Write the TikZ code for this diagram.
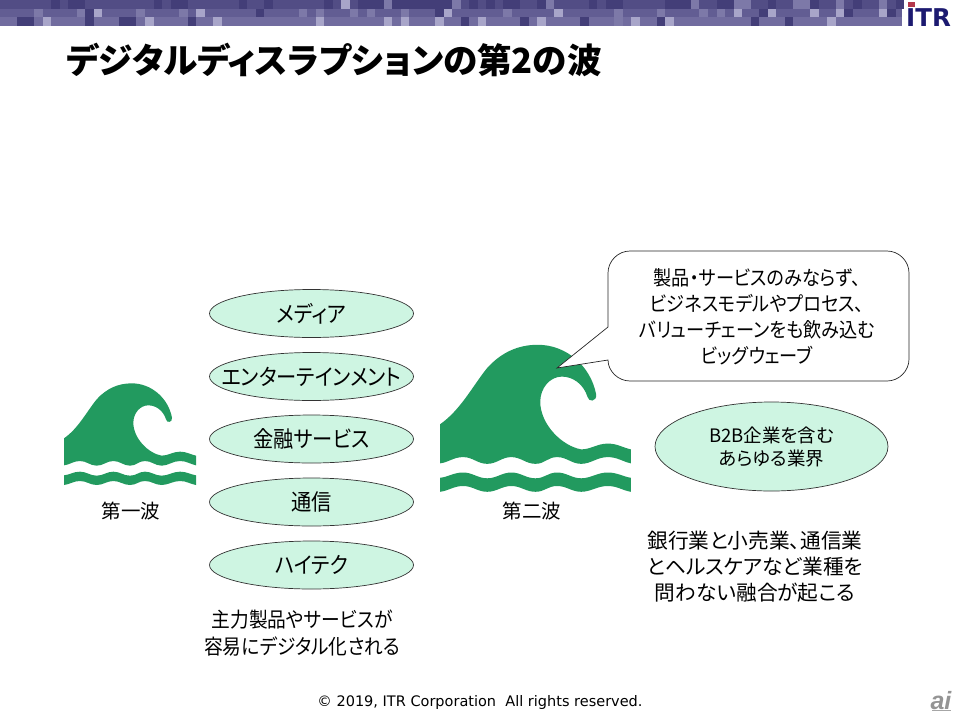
\documentclass[tikz,border=0pt]{standalone}
\usepackage{fontspec}
\setmainfont[RawFeature=+palt]{Noto Sans CJK JP}
\newfontfamily\narrowjp[RawFeature=+palt,FakeStretch=0.9]{Noto Sans CJK JP}
\newfontfamily\footfont{DejaVu Sans}
\newfontfamily\logofont{Liberation Sans}
\newfontfamily\itrfont{DejaVu Sans}
\definecolor{rowa}{HTML}{524D85}
\definecolor{rowb}{HTML}{625D93}
\definecolor{rowc}{HTML}{716C9F}
\definecolor{celldark}{HTML}{433E78}
\definecolor{cellmid}{HTML}{7D79A8}
\definecolor{cellbright}{HTML}{A8A5C9}
\definecolor{seagreen}{HTML}{229A5F}
\definecolor{palegreen}{HTML}{CEF5E2}
\definecolor{navy}{HTML}{1C1A70}
\definecolor{logored}{HTML}{B4384C}
\newcommand{\cellrow}[3]{\foreach \c in {#3}{\fill[#2] ({\c*8.53},{#1*8.667}) rectangle ++(8.53,8.667);}}
\newcommand{\fixedw}[1]{\makebox[0pt][c]{#1}}
\tikzset{
  wavefill/.style={fill=seagreen,draw=none},
  wavepic/.pic={
    \path[wavefill] (42,205) .. controls (85,175) and (110,125) .. (140,88)
      .. controls (170,55) and (205,40) .. (245,40)
      .. controls (305,40) and (355,85) .. (366,143)
      .. controls (368,158) and (350,160) .. (348,148)
      .. controls (340,122) and (318,106) .. (295,106)
      .. controls (270,106) and (250,130) .. (250,158)
      .. controls (250,205) and (295,250) .. (335,257)
      .. controls (355,257) and (368,245) .. (390,245)
      .. controls (410,245) and (420,253) .. (438,257)
      -- (438,286)
      .. controls (420,282) and (410,273) .. (390,273)
      .. controls (368,273) and (355,287) .. (335,287)
      .. controls (315,287) and (305,273) .. (285,273)
      .. controls (265,273) and (260,287) .. (240,287)
      .. controls (220,287) and (210,273) .. (190,273)
      .. controls (170,273) and (160,287) .. (140,287)
      .. controls (120,287) and (110,273) .. (90,273)
      .. controls (70,273) and (60,284) .. (42,286) -- cycle;
    \path[wavefill] (42,316)
      .. controls (60,314) and (70,305) .. (90,305)
      .. controls (110,305) and (120,317) .. (140,317)
      .. controls (160,317) and (170,305) .. (190,305)
      .. controls (210,305) and (220,317) .. (240,317)
      .. controls (260,317) and (265,305) .. (285,305)
      .. controls (305,305) and (315,317) .. (335,317)
      .. controls (355,317) and (368,305) .. (390,305)
      .. controls (410,305) and (420,313) .. (438,316)
      -- (438,345)
      .. controls (420,342) and (410,333) .. (390,333)
      .. controls (368,333) and (355,345) .. (335,345)
      .. controls (315,345) and (305,333) .. (285,333)
      .. controls (265,333) and (260,345) .. (240,345)
      .. controls (220,345) and (210,333) .. (190,333)
      .. controls (170,333) and (160,345) .. (140,345)
      .. controls (120,345) and (110,333) .. (90,333)
      .. controls (70,333) and (60,343) .. (42,345) -- cycle;
  },
  sector/.style={ellipse,draw=black!80,line width=0.7pt,fill=palegreen,minimum width=204pt,minimum height=48pt,inner sep=0pt,font=\narrowjp\fontsize{22.5}{26}\selectfont},
  wavelabel/.style={font=\fontsize{19.5}{24}\selectfont}
}
\usetikzlibrary{shapes.geometric}
\begin{document}
\begin{tikzpicture}[x=1pt,y=-1pt]
\useasboundingbox (0,0) rectangle (960,720);
% mosaic band
\fill[rowa] (0,0) rectangle (902,8.667);
\fill[rowb] (0,8.667) rectangle (902,17.333);
\fill[rowc] (0,17.333) rectangle (902,26);
\cellrow{0}{celldark}{6,8,9,18,20,21,28,31,38,42,43,44,46,47,48,49,50,51,52,55,57,59,60,63,69,71,72,78,79,80,84,85,90,95,100,105}
\cellrow{0}{cellmid}{45,53,64,81,86,87,93,94,98,103}
\cellrow{0}{cellbright}{40}
\cellrow{1}{celldark}{10,30,51,89,99,104}
\cellrow{1}{cellmid}{4,9,16,21,35,37,41,43,47,59,72,77,82,84}
\cellrow{1}{cellbright}{11,23,52,65,86,90,95,98,103}
\cellrow{2}{celldark}{2,3,10,14,15,22,54,61,68,77,88,92}
\cellrow{2}{cellmid}{72}
\cellrow{2}{cellbright}{5,17,25,37,45,47,51,56,63,74,78,97}
% logo
\node[anchor=base west,inner sep=0pt,text=navy] (logo) at (906,26) {\itrfont\bfseries\fontsize{24.5}{26}\selectfont ITR};
\fill[logored] (908,1.5) rectangle (915,7);
% title
\node[anchor=west,inner sep=0pt] (title) at (66,60) {\bfseries\fontsize{34.6}{38}\selectfont デジタルディスラプションの第2の波};
% waves
\path (50,370) pic[scale=0.33333] {wavepic};
\path (419.75,325.5) pic[scale=0.482] {wavepic};
\node[wavelabel] (first) at (131,511) {第一波};
\node[wavelabel] (second) at (532,511) {第二波};
% sectors
\node[sector] (media) at (311.5,313.5) {\fixedw{メディア}};
\node[sector] (ent) at (311.5,376.5) {\fixedw{エンターテインメント}};
\node[sector] (fin) at (311.5,439) {\fixedw{金融サービス}};
\node[sector] (tel) at (311.5,502) {\fixedw{通信}};
\node[sector] (hitech) at (311.5,565) {\fixedw{ハイテク}};
\node[align=center,font=\narrowjp\fontsize{20.8}{27.5}\selectfont] (cap1) at (302,633) {主力製品やサービスが\\容易にデジタル化される};
% callout
\draw[draw=black!85,fill=white,line width=0.7pt] (630,251) -- (887,251)
  .. controls (899,251) and (909,261) .. (909,273) -- (909,359)
  .. controls (909,371) and (899,381) .. (887,381) -- (630,381)
  .. controls (618,381) and (608,371) .. (608,360) -- (557,368) -- (608,327) -- (608,273)
  .. controls (608,261) and (618,251) .. (630,251) -- cycle;
\node[align=center,font=\narrowjp\fontsize{20.2}{26}\selectfont] (speech) at (757,316.5) {製品・サービスのみならず、\\ビジネスモデルやプロセス、\\バリューチェーンをも飲み込む\\ビッグウェーブ};
% all industries
\node[ellipse,draw=black!80,line width=0.7pt,fill=palegreen,minimum width=233pt,minimum height=89pt,inner sep=0pt,align=center,font=\fontsize{18.5}{23}\selectfont] (all) at (771.5,446.5) {\fixedw{B2B企業を含む}\\\fixedw{あらゆる業界}};
\node[align=center,font=\fontsize{20.7}{26}\selectfont] (cap2) at (755,567) {銀行業と小売業、通信業\\とヘルスケアなど業種を\\問わない融合が起こる};
% footer
\node[inner sep=0pt] (foot) at (480,702) {\footfont\fontsize{14.5}{16}\selectfont © 2019, ITR Corporation\ \ All rights reserved.};
\node[inner sep=0pt,text=black!42] (ailogo) at (941,701) {\logofont\bfseries\itshape\fontsize{25}{26}\selectfont ai};
\fill[black!35] (932,710) rectangle (951,711.2);
\end{tikzpicture}
\end{document}
